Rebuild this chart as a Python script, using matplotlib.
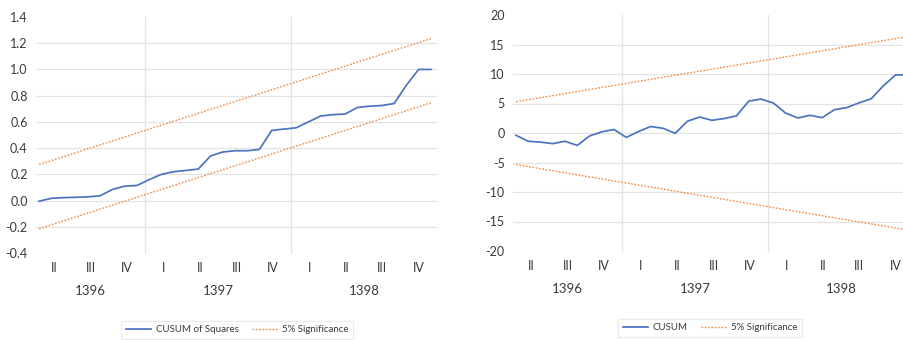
import matplotlib
matplotlib.use("Agg")
import matplotlib.pyplot as plt
import numpy as np
from matplotlib.lines import Line2D

plt.rcParams['font.family'] = ['Lato', 'DejaVu Sans']

# ---- data ----
quarters = ["II", "III", "IV", "I", "II", "III", "IV", "I", "II", "III", "IV"]
years = ["1396", "1397", "1398"]
year_span = [(0, 3), (3, 7), (7, 11)]   # quarter index ranges per year

cusum_sq = [-0.005, 0.017, 0.022, 0.025, 0.028, 0.037, 0.085, 0.11, 0.115, 0.16,
            0.2, 0.22, 0.23, 0.24, 0.34, 0.37, 0.38, 0.38, 0.39, 0.535,
            0.545, 0.555, 0.6, 0.645, 0.655, 0.66, 0.71, 0.72, 0.725, 0.74,
            0.88, 1.0, 1.0]
sq_upper = [0.275, 1.235]
sq_lower = [-0.215, 0.745]

cusum = [-0.4, -1.4, -1.55, -1.8, -1.4, -2.1, -0.5, 0.2, 0.6, -0.75,
         0.25, 1.1, 0.8, -0.05, 2.0, 2.7, 2.15, 2.45, 2.9, 5.4,
         5.75, 5.1, 3.4, 2.55, 3.0, 2.6, 3.95, 4.3, 5.1, 5.8,
         8.0, 9.85, 9.85]
cs_upper = [5.3, 16.35]
cs_lower = [-5.35, -16.45]

sq_yticks = [-0.4, -0.2, 0.0, 0.2, 0.4, 0.6, 0.8, 1.0, 1.2, 1.4]
cs_yticks = [-20, -15, -10, -5, 0, 5, 10, 15, 20]

BLUE = "#4A74C0"
ORANGE = "#EE8A45"
GRID = "#E3E3E3"
TXT = "#3A3A3A"

W, H = 904, 340
fig = plt.figure(figsize=(W / 100, H / 100), dpi=100)

def make_axes(left_px, bottom_px, top_px, width_px):
    return fig.add_axes([left_px / W, (H - bottom_px) / H, width_px / W,
                         (bottom_px - top_px) / H])

ax1 = make_axes(36, 253, 17, 401)
ax2 = make_axes(513, 251, 15, 401)

XLIM = (-0.25, 32.5)

def style(ax, series, upper, lower, yticks, fmt, main_label, legend_xy):
    n = len(series)
    x = np.arange(n)
    xe = [0, n - 1]
    ax.set_xlim(*XLIM)
    ax.set_ylim(yticks[0], yticks[-1])
    for s in ax.spines.values():
        s.set_visible(False)
    # interior horizontal gridlines
    for t in yticks[1:-1]:
        ax.axhline(t, color=GRID, lw=0.9, zorder=0)
    # vertical separators between years
    for a, b in year_span[1:]:
        f = a / len(quarters)
        ax.plot([f, f], [0, 1], transform=ax.transAxes, color=GRID, lw=0.9,
                zorder=0, clip_on=False)
    ax.plot(xe, upper, color=ORANGE, lw=1.0, ls=(0, (1.2, 1.2)), zorder=2)
    ax.plot(xe, lower, color=ORANGE, lw=1.0, ls=(0, (1.2, 1.2)), zorder=2)
    ax.plot(x, series, color=BLUE, lw=1.25, zorder=3)
    ax.set_yticks(yticks)
    ax.set_yticklabels([fmt.format(t) for t in yticks], color=TXT, fontsize=9)
    ax.tick_params(axis='y', length=0, pad=6)
    ax.set_xticks([])
    nq = len(quarters)
    for i, q in enumerate(quarters):
        ax.text((i + 0.5) / nq, -0.063, q, transform=ax.transAxes, ha='center',
                va='center', fontsize=9, color=TXT)
    for yr, (a, b) in zip(years, year_span):
        ax.text((a + b) / 2 / nq, -0.163, yr, transform=ax.transAxes, ha='center',
                va='center', fontsize=9.5, color=TXT)
    handles = [Line2D([], [], color=BLUE, lw=1.25),
               Line2D([], [], color=ORANGE, lw=1.0, ls=(0, (1.2, 1.2)))]
    leg = fig.legend(handles, [main_label, "5% Significance"], loc='center',
                     bbox_to_anchor=(legend_xy[0] / W, (H - legend_xy[1]) / H),
                     ncol=2, fontsize=7, frameon=True, fancybox=False,
                     handlelength=2.6, handletextpad=0.5, columnspacing=1.3,
                     borderpad=0.5)
    leg.get_frame().set_edgecolor("#E6E6E6")
    leg.get_frame().set_linewidth(0.8)
    for t in leg.get_texts():
        t.set_color(TXT)

style(ax1, cusum_sq, sq_upper, sq_lower, sq_yticks, "{:.1f}", "CUSUM of Squares", (237, 330))
style(ax2, cusum, cs_upper, cs_lower, cs_yticks, "{:d}", "CUSUM", (710, 328))

fig.savefig("out.png", dpi=100)
